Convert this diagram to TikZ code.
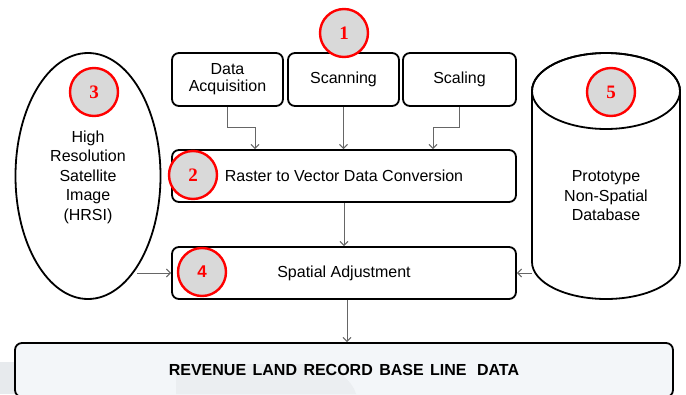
\documentclass[tikz,border=0pt]{standalone}
\usepackage{fontspec}
\setmainfont{Liberation Sans}
\newfontfamily\numserif{Liberation Serif}
\usetikzlibrary{arrows.meta,shapes.geometric}

\definecolor{boxfill}{HTML}{F3F6F9}
\definecolor{numfill}{HTML}{D9D9D9}
\definecolor{linkgray}{HTML}{666666}
\definecolor{markgray}{HTML}{E7EAED}

\tikzset{
  stepbox/.style={draw=black, line width=1.8pt, rounded corners=7pt, fill=white,
    inner sep=0pt, align=center, font=\fontsize{16}{17}\selectfont},
  arr/.style={draw=linkgray, line width=1pt, -{Straight Barb[length=4pt,width=8pt]}},
  numc/.style={circle, draw=red, line width=2.4pt, fill=numfill, minimum size=48pt,
    inner sep=0pt, text=red, font=\numserif\bfseries\fontsize{19}{19}\selectfont},
  bodytext/.style={align=center, font=\fontsize{16}{19.5}\selectfont}
}

\begin{document}
\begin{tikzpicture}[x=1pt, y=-1pt]
\useasboundingbox (0,0) rectangle (686,394);
\clip (0,0) rectangle (686,394);
\fill[white] (0,0) rectangle (686,394);

% faint background marks
\fill[markgray] (0,362) rectangle (133,394);

% final output box
\node[stepbox, fill=boxfill, minimum width=658pt, minimum height=54pt] (base) at (344,370) {};
\fill[markgray!70!boxfill] (176,364) -- (300,364) .. controls (335,364) and (352,380) .. (356,394) -- (176,394) -- cycle;
\node[font=\bfseries\fontsize{16}{16}\selectfont] (basetxt) at (base.center)
  {REVENUE\hspace{2pt} LAND\hspace{2pt} RECORD\hspace{2pt} BASE\hspace{2pt} LINE\hspace{6pt} DATA};

% input steps
\node[stepbox, minimum width=111pt, minimum height=53pt] (acq) at (227.5,79.5) {Data\\Acquisition};
\node[stepbox, minimum width=111pt, minimum height=53pt] (scan) at (343.5,79.5) {Scanning};
\node[stepbox, minimum width=113pt, minimum height=53pt] (scal) at (459.5,79.5) {Scaling};

% processing steps
\node[stepbox, minimum width=344pt, minimum height=52pt] (raster) at (344,176) {Raster to Vector Data Conversion};
\node[stepbox, minimum width=344pt, minimum height=52pt] (spatial) at (344,273) {Spatial Adjustment};

% satellite image source
\node[ellipse, draw=black, line width=1.8pt, fill=white, minimum width=145pt, minimum height=246pt,
  inner sep=0pt] (hrsi) at (88,176) {};
\node[bodytext] (hrsitxt) at (88,177) {High\\Resolution\\Satellite\\Image\\(HRSI)};

% database cylinder (y axis points down, so arcs run through 90 = below, -90 = above)
\filldraw[fill=white, draw=black, line width=1.8pt]
  (532,91) -- (532,262) arc[start angle=180, end angle=0, x radius=74, y radius=37]
  -- (680,91) arc[start angle=0, end angle=-180, x radius=74, y radius=38] -- cycle;
\draw[black, line width=1.8pt] (606,91) ellipse[x radius=74, y radius=38];
\node[minimum width=148pt, minimum height=246pt, inner sep=0pt] (db) at (606,176) {};
\node[bodytext] (dbtxt) at (606,196) {Prototype\\Non-Spatial\\Database};

% connectors
\draw[arr] (acq.south) -- ++(0,21) -| ([xshift=-89pt]raster.north);
\draw[arr] (scan.south) -- (scan.south |- raster.north);
\draw[arr] (scal.south) -- ++(0,21) -| ([xshift=89pt]raster.north);
\draw[arr] (raster.south) -- (spatial.north);
\draw[arr] ([xshift=3pt]spatial.south) -- ([xshift=3pt]spatial.south |- base.north);
\draw[arr] (spatial.west -| hrsi.-62) -- (spatial.west);
\draw[arr] (spatial.east -| db.west) -- (spatial.east);

% step numbers
\node[numc] (n1) at (344,33) {1};
\node[numc] (n2) at (193,175) {2};
\node[numc] (n3) at (94,92) {3};
\node[numc, font=\bfseries\fontsize{17}{17}\selectfont] (n4) at (202,272) {4};
\node[numc] (n5) at (611,92) {5};
\end{tikzpicture}
\end{document}
